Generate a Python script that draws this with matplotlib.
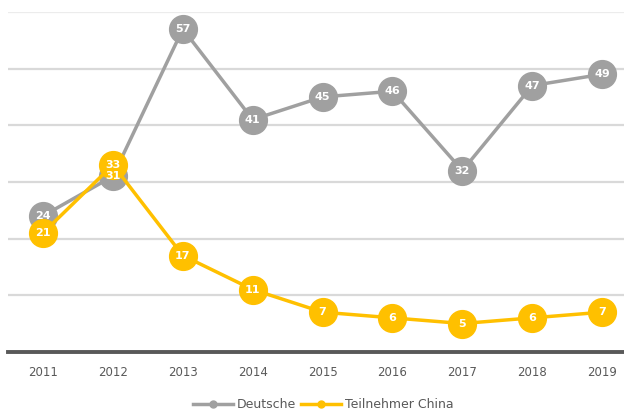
import matplotlib.pyplot as plt

years = ['2011', '2012', '2013', '2014', '2015', '2016', '2017', '2018', '2019']
deutsche = [24, 31, 57, 41, 45, 46, 32, 47, 49]
china = [21, 33, 17, 11, 7, 6, 5, 6, 7]

GRAY = '#a0a0a0'
GOLD = '#ffc000'

fig = plt.figure(figsize=(6.24, 4.12), dpi=100)
ax = fig.add_axes([0.013, 0.146, 1.008, 0.825])

x = range(len(years))
for vals, col, name in [(deutsche, GRAY, 'Deutsche'), (china, GOLD, 'Teilnehmer China')]:
    ax.plot(x, vals, color=col, lw=2.5, marker='o', ms=20, mec=col, mfc=col,
            label=name, zorder=3)
    for xi, v in zip(x, vals):
        ax.text(xi, v, str(v), color='white', ha='center', va='center',
                fontsize=8, fontweight='bold', zorder=4)

ax.set_xlim(-0.5, 8.5)
ax.set_ylim(0, 60)
ax.set_yticks(range(10, 61, 10))
ax.yaxis.grid(True, color='#d9d9d9', lw=1.6)
# top gridline is drawn lighter
ax.get_ygridlines()[-1].set_color('#ececec')
ax.set_axisbelow(True)
ax.tick_params(left=False, labelleft=False, bottom=False, labelsize=8.5,
               labelcolor='#595959', pad=7)
ax.set_xticks(list(x))
ax.set_xticklabels(years)
for s in ['top', 'left', 'right']:
    ax.spines[s].set_visible(False)
ax.spines['bottom'].set_color('#595959')
ax.spines['bottom'].set_linewidth(2.8)

handles = [plt.Line2D([], [], color=GRAY, lw=2.5, marker='o', ms=5),
           plt.Line2D([], [], color=GOLD, lw=2.5, marker='o', ms=5)]
fig.legend(handles, ['Deutsche', 'Teilnehmer China'], loc='center',
           bbox_to_anchor=(0.518, 0.017), ncol=2, frameon=False, fontsize=9,
           labelcolor='#595959', handlelength=3.2, columnspacing=0.4,
           handletextpad=0.3)

fig.savefig('out.png', dpi=100)
